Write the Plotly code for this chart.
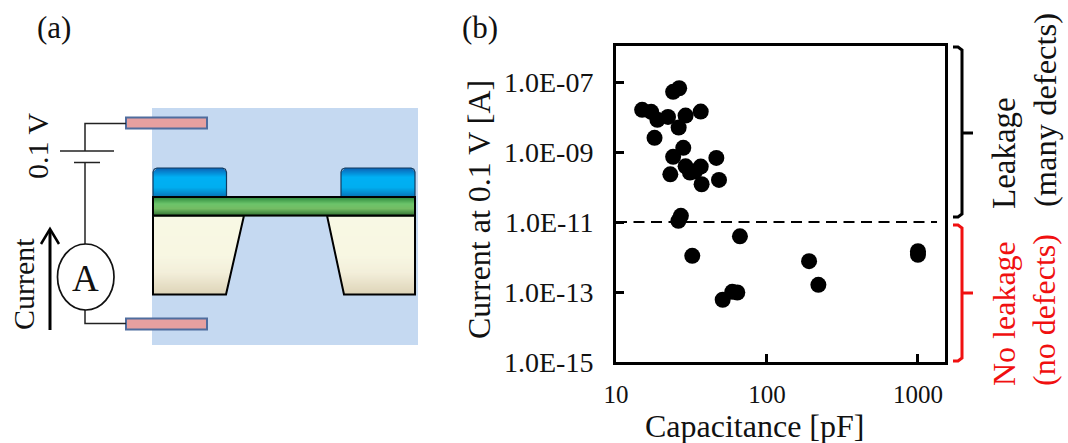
import plotly.graph_objects as go

# ---------- data ----------
capacitance_pF = [26.2, 23.9, 14.9, 17.1, 18.8, 22.1, 28.9, 36.4, 26.0, 18.0, 27.9, 23.9, 46.2, 28.9,
                  36.4, 30.9, 33.3, 22.9, 48.1, 36.9, 26.9, 25.9, 66.2, 32.0, 190, 219, 1000, 1000,
                  50.9, 58.9, 63.6]
current_A = [6.65e-8, 5.25e-8, 1.61e-8, 1.41e-8, 8.3e-9, 1.01e-8, 1.10e-8, 1.43e-8, 5.0e-9, 2.55e-9,
             1.32e-9, 7.3e-10, 6.8e-10, 3.9e-10, 3.85e-10, 2.6e-10, 2.8e-10, 2.3e-10, 1.6e-10, 1.2e-10,
             1.5e-11, 1.08e-11, 3.9e-12, 1.08e-12, 7.6e-13, 1.6e-13, 1.47e-12, 1.16e-12,
             6.0e-14, 1.01e-13, 9.7e-14]
threshold_x = [10, 1337]
threshold_y = [1e-11, 1e-11]
x_ticks = [10, 100, 1000]
x_tick_labels = ["10", "100", "1000"]
y_ticks = [1e-15, 1e-13, 1e-11, 1e-9, 1e-7]
y_tick_labels = ["1.0E-15", "1.0E-13", "1.0E-11", "1.0E-09", "1.0E-07"]

W, H = 1068, 443
SERIF = "Liberation Serif"
RED = "#F01010"
shapes, notes = [], []


def mix(c1, c2, t):
    a = [int(c1[i:i + 2], 16) for i in (1, 3, 5)]
    b = [int(c2[i:i + 2], 16) for i in (1, 3, 5)]
    return "#%02x%02x%02x" % tuple(round(p + (q - p) * t) for p, q in zip(a, b))


def ramp(stops, t):
    for (t0, c0), (t1, c1) in zip(stops, stops[1:]):
        if t <= t1:
            return mix(c0, c1, (t - t0) / (t1 - t0) if t1 > t0 else 0)
    return stops[-1][1]


def poly(points, fill=None, line="#000000", width=0, close=True):
    d = "M" + " L".join(f"{x},{y}" for x, y in points) + (" Z" if close else "")
    shapes.append(dict(type="path", path=d, xref="x2", yref="y2", layer="above",
                       fillcolor=fill or "rgba(0,0,0,0)",
                       line=dict(color=line, width=width)))


def bands(left, right, y0, y1, stops):
    y = y0
    while y < y1:
        t = (y - y0) / (y1 - y0)
        poly([(left(y), y), (right(y + 0.5), y), (right(y + 0.5), y + 1.3), (left(y), y + 1.3)],
             fill=ramp(stops, t))
        y += 1


def text(x, y, s, size, color="#111111", angle=0, xanchor="center", yanchor="middle"):
    notes.append(dict(x=x, y=y, xref="x2", yref="y2", text=s, showarrow=False, textangle=angle,
                      xanchor=xanchor, yanchor=yanchor,
                      font=dict(family=SERIF, size=size, color=color)))


# ---------- schematic ----------
poly([(152, 108), (418, 108), (418, 345), (152, 345)], fill="#C5D9F1")

for ytop in (117.5, 318.5):
    poly([(126, ytop), (207, ytop), (207, ytop + 11), (126, ytop + 11)],
         fill="#E6A0A0", line="#4F6D9E", width=2)

WIRE = "#222222"
poly([(126, 123.5), (85, 123.5), (85, 151)], line=WIRE, width=1.5, close=False)
poly([(60, 151), (114, 151)], line=WIRE, width=1.5, close=False)
poly([(74, 162.5), (100, 162.5)], line=WIRE, width=1.5, close=False)
poly([(85, 162.5), (85, 244)], line=WIRE, width=1.5, close=False)
poly([(85, 310), (85, 323.5), (126, 323.5)], line=WIRE, width=1.5, close=False)
shapes.append(dict(type="circle", xref="x2", yref="y2", x0=57.5, x1=114, y0=244, y1=310,
                   fillcolor="#FFFFFF", line=dict(color="#111111", width=1.7), layer="above"))
text(85.5, 278, "A", 37)

poly([(50, 330), (50, 230)], line="#000000", width=3, close=False)
poly([(41, 244), (50, 229), (59, 244)], line="#000000", width=2.5, close=False)

BLUE = [(0, "#0A66B8"), (0.3, "#00B0F4"), (0.65, "#00AEF0"), (1, "#0670B4")]
for xa, xb in ((153, 226.5), (341, 415)):
    def le(y, xa=xa):
        return xa + max(0, 4 - (y - 168)) * 0.9

    def ri(y, xb=xb):
        return xb - max(0, 4 - (y - 168)) * 0.9

    bands(le, ri, 168, 197, BLUE)
    poly([(xa, 197), (xa, 172), (xa + 1.2, 169.2), (xa + 4, 168), (xb - 4, 168),
          (xb - 1.2, 169.2), (xb, 172), (xb, 197)], line="#123A5E", width=1.2, close=False)

CREAM = [(0, "#FFFCE2"), (0.5, "#FFFBE0"), (0.72, "#F9F1D6"), (1, "#E0D2AE")]
bands(lambda y: 153, lambda y: 244 - (y - 215.5) * (18 / 79), 215.5, 294.5, CREAM)
bands(lambda y: 327 + (y - 215.5) * (17 / 79), lambda y: 415, 215.5, 294.5, CREAM)
poly([(153, 215.5), (244, 215.5), (226, 294.5), (153, 294.5)], line="#000000", width=2)
poly([(327, 215.5), (415, 215.5), (415, 294.5), (344, 294.5)], line="#000000", width=2)

GREEN = [(0, "#2E8B3E"), (0.35, "#6CC46A"), (0.6, "#74BC64"), (1, "#2B6E2E")]
bands(lambda y: 153, lambda y: 415, 197, 215.5, GREEN)
poly([(153, 197), (415, 197), (415, 215.5), (153, 215.5)], line="#000000", width=2)

text(53.5, 27, "(a)", 31)
text(480, 27, "(b)", 31)
text(37, 146, "0.1 V", 30, angle=-90)
text(23, 284, "Current", 30, angle=-90)

# ---------- brackets and side labels ----------
poly([(953, 47), (958, 47), (962, 50), (962, 214), (958, 217), (953, 217)], line="#000000", width=3, close=False)
poly([(962, 133), (973, 133)], line="#000000", width=3, close=False)
poly([(953, 225), (958, 225), (962, 228), (962, 358), (958, 361), (953, 361)], line=RED, width=3, close=False)
poly([(962, 293), (973, 293)], line=RED, width=3, close=False)

text(1004, 153, "Leakage", 33, angle=-90)
text(1045, 110, "(many defects)", 32.5, angle=-90)
text(1004, 314, "No leakage", 32, color=RED, angle=-90)
text(1044, 310, "(no defects)", 32, color=RED, angle=-90)

text(754, 426, "Capacitance [pF]", 32)
text(479, 210, "Current at 0.1 V [A]", 32, angle=-90)

# ---------- chart ----------
fig = go.Figure()
fig.add_trace(go.Scatter(x=[0, W], y=[0, H], xaxis="x2", yaxis="y2", mode="markers",
                         marker=dict(opacity=0), hoverinfo="skip", showlegend=False))
fig.add_trace(go.Scatter(x=threshold_x, y=threshold_y, mode="lines", showlegend=False,
                         line=dict(color="#000000", width=2, dash="11px,6.5px")))
fig.add_trace(go.Scatter(x=capacitance_pF, y=current_A, mode="markers", showlegend=False,
                         marker=dict(color="#000000", size=16, line=dict(width=0))))

fig.update_layout(
    width=W, height=H, margin=dict(l=0, r=0, t=0, b=0), autosize=False,
    paper_bgcolor="#FFFFFF", plot_bgcolor="rgba(0,0,0,0)", showlegend=False,
    shapes=shapes, annotations=notes,
    font=dict(family=SERIF, color="#111111"),
    xaxis=dict(type="log", range=[1, 3.179], domain=[616 / W, 945 / W], anchor="y",
               tickvals=x_ticks, ticktext=x_tick_labels, tickfont=dict(size=25),
               ticks="inside", ticklen=8, tickwidth=2.5, tickcolor="#000000", automargin=False,
               showline=True, linecolor="#000000", linewidth=3, mirror=True, showgrid=False,
               zeroline=False, ticklabelstandoff=8),
    yaxis=dict(type="log", range=[-15, -5.97], domain=[1 - 362 / H, 1 - 46 / H], anchor="x",
               tickvals=y_ticks, ticktext=y_tick_labels, tickfont=dict(size=28),
               ticks="inside", ticklen=8, tickwidth=2.5, tickcolor="#000000", automargin=False,
               showline=True, linecolor="#000000", linewidth=3, mirror=True, showgrid=False,
               zeroline=False, ticklabelstandoff=14),
    xaxis2=dict(range=[0, W], domain=[0, 1], anchor="y2", visible=False, automargin=False),
    yaxis2=dict(range=[H, 0], domain=[0, 1], anchor="x2", visible=False, automargin=False),
)
fig.write_html("out.html", config=dict(displayModeBar=False),
               post_script="document.body.style.margin='0';document.body.style.overflow='hidden';")
